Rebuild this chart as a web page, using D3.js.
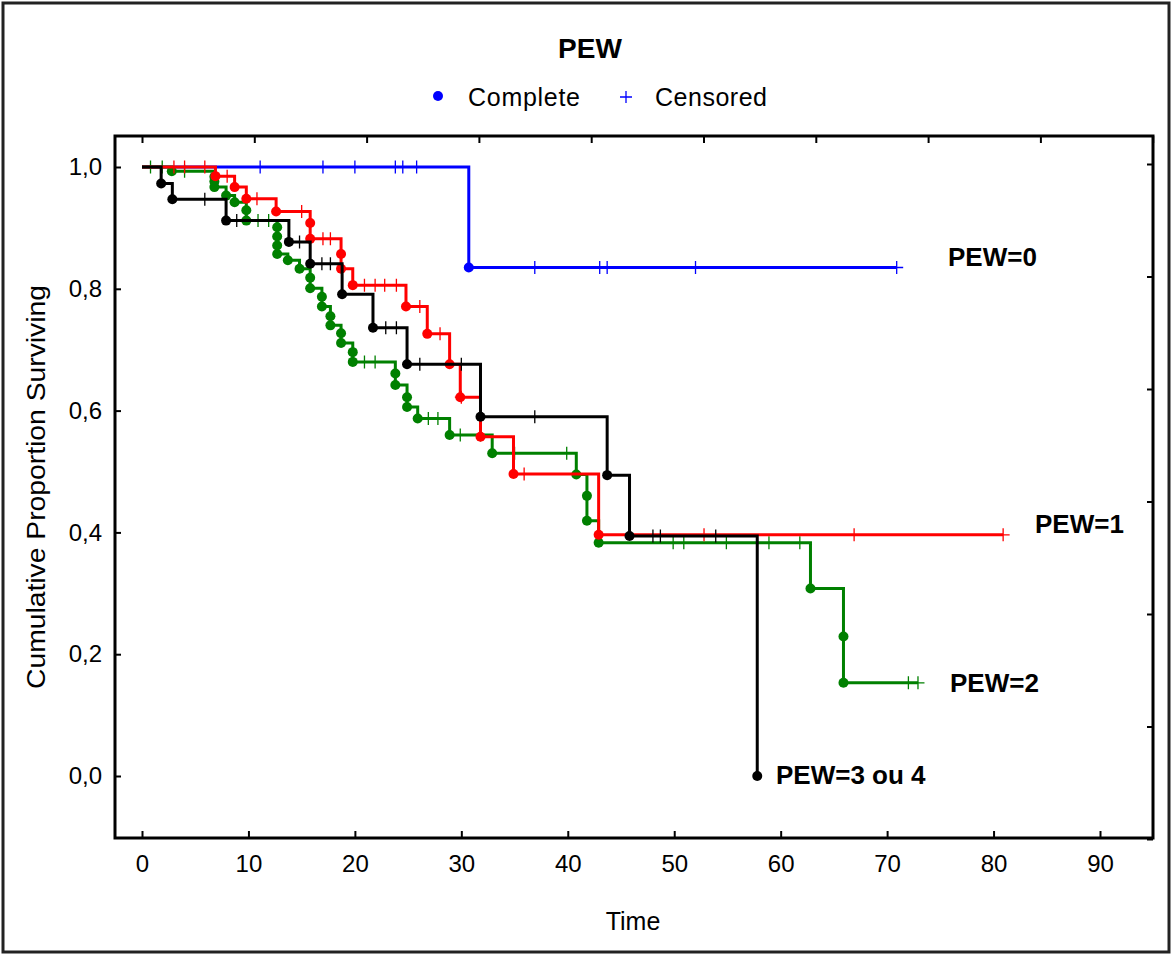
<!DOCTYPE html>
<html><head><meta charset="utf-8">
<script src="https://cdn.jsdelivr.net/npm/d3@7"></script>
<style>body{margin:0;background:#fff}svg{display:block}text{font-family:"Liberation Sans",Arial,sans-serif}</style>
</head><body><svg id="c" width="1172" height="955"></svg>
<script>
// ---- data ----
const groupNames = ["PEW=0", "PEW=1", "PEW=2", "PEW=3 ou 4"];
const groupColors = ["#0000ff", "#ff0000", "#008000", "#000000"];
const xTicks = [0,10,20,30,40,50,60,70,80,90];
const yTicks = [0,0.2,0.4,0.6,0.8,1.0];

// PEW=0
const evT0 = [30.7];
const evS0 = [0.835];
const cen0 = [11.1, 17.0, 20.0, 23.8, 24.5, 25.8, 36.9, 43.0, 43.7, 52.0, 70.9];
const end0 = 70.9;
// PEW=1
const evT1 = [6.9, 8.7, 9.8, 12.6, 15.8, 15.8, 18.7, 18.7, 19.8, 24.8, 26.8, 28.9, 29.9, 31.8, 34.9, 42.9];
const evS1 = [0.985, 0.967, 0.948, 0.927, 0.908, 0.882, 0.857, 0.833, 0.806, 0.771, 0.726, 0.676, 0.622, 0.557, 0.496, 0.396];
const cen1 = [3.0, 4.0, 5.9, 8.0, 10.8, 15.0, 17.0, 17.7, 20.9, 21.9, 22.8, 23.9, 26.1, 28.0, 30.0, 35.9, 52.8, 66.9, 80.9];
const end1 = 80.9;
// PEW=2
const evT2 = [2.8, 6.8, 6.8, 6.8, 7.9, 8.7, 9.8, 9.8, 12.7, 12.7, 12.7, 12.7, 13.7, 14.8, 15.8, 15.8, 16.9, 16.9, 17.7, 17.7, 18.7, 18.7, 19.8, 19.8, 23.8, 23.8, 24.9, 24.9, 25.9, 28.9, 32.9, 40.8, 41.8, 41.8, 42.9, 62.8, 65.9, 65.9];
const evS2 = [0.993, 0.984, 0.976, 0.967, 0.953, 0.942, 0.929, 0.912, 0.901, 0.886, 0.871, 0.857, 0.847, 0.833, 0.818, 0.801, 0.787, 0.771, 0.755, 0.740, 0.727, 0.711, 0.696, 0.680, 0.661, 0.642, 0.622, 0.606, 0.587, 0.560, 0.530, 0.495, 0.460, 0.419, 0.383, 0.308, 0.229, 0.153];
const cen2 = [0.8, 1.9, 4.0, 10.9, 11.9, 20.9, 21.9, 26.9, 27.8, 29.9, 31.8, 35.0, 39.9, 49.9, 50.9, 54.9, 58.9, 61.8, 72.0, 72.9];
const end2 = 72.9;
// PEW=3 ou 4
const evT3 = [1.8, 2.85, 7.9, 13.8, 15.8, 18.8, 21.7, 24.9, 31.8, 43.7, 45.8, 57.8];
const evS3 = [0.973, 0.947, 0.912, 0.877, 0.841, 0.791, 0.736, 0.676, 0.590, 0.494, 0.394, 0.0];
const cen3 = [5.9, 8.9, 14.8, 16.9, 17.7, 22.9, 23.9, 26.1, 30.0, 36.9, 48.0, 48.7, 53.9];
const end3 = 57.8;

const groups = [
  {ev: evT0, s: evS0, cen: cen0, end: end0},
  {ev: evT1, s: evS1, cen: cen1, end: end1},
  {ev: evT2, s: evS2, cen: cen2, end: end2},
  {ev: evT3, s: evS3, cen: cen3, end: end3}
];

// ---- layout ----
const svg = d3.select("#c");
const frame = {l:115, t:136, r:1153, b:838};
const x = d3.scaleLinear().domain([0,90]).range([142,1100]);
const y = d3.scaleLinear().domain([0,1]).range([776,167]);
// secondary (unlabelled) tick scales along top and right frame edges
const xTop = d3.scaleLinear().domain([0,9]).range([142,1152.7]);
const yRight = d3.scaleLinear().domain([0,6]).range([164,839]);

// outer border
svg.append("rect").attr("x",3).attr("y",3).attr("width",1166).attr("height",949)
  .attr("fill","#fff").attr("stroke","#222").attr("stroke-width",3);

// title + legend
svg.append("text").attr("x",590).attr("y",58).attr("text-anchor","middle")
  .attr("font-size",28).attr("font-weight","bold").text("PEW");
svg.append("circle").attr("cx",438).attr("cy",96).attr("r",5).attr("fill","#0000ff");
svg.append("text").attr("x",468).attr("y",106).attr("font-size",25).attr("textLength",112).text("Complete");
svg.append("path").attr("d","M620,97H632M626,91V103").attr("stroke","#0000ff").attr("stroke-width",1.3);
svg.append("text").attr("x",655).attr("y",106).attr("font-size",25).attr("textLength",112).text("Censored");

// axes
const gx = svg.append("g").attr("transform",`translate(0,${frame.b})`)
  .call(d3.axisBottom(x).tickValues(xTicks).tickSize(-7).tickPadding(17).tickFormat(d3.format("d")));
const gy = svg.append("g").attr("transform",`translate(${frame.l},0)`)
  .call(d3.axisLeft(y).tickValues(yTicks).tickSize(-6).tickPadding(13).tickFormat(d => d3.format(".1f")(d).replace(".",",")));
const gt = svg.append("g").attr("transform",`translate(0,${frame.t})`)
  .call(d3.axisTop(xTop).ticks(9).tickSize(-7).tickFormat(""));
const gr = svg.append("g").attr("transform",`translate(${frame.r},0)`)
  .call(d3.axisRight(yRight).ticks(6).tickSize(-6).tickFormat(""));
[gx,gy,gt,gr].forEach(g => {
  g.select(".domain").remove();
  g.selectAll(".tick line").attr("stroke","#000").attr("stroke-width",2);
  g.selectAll(".tick text").attr("font-size",24).attr("fill","#000")
    .style("font-family","'Liberation Sans',Arial,sans-serif");
});
svg.append("rect").attr("x",frame.l).attr("y",frame.t)
  .attr("width",frame.r-frame.l).attr("height",frame.b-frame.t)
  .attr("fill","none").attr("stroke","#000").attr("stroke-width",3);

svg.append("text").attr("x",633).attr("y",930).attr("text-anchor","middle").attr("font-size",25).text("Time");
svg.append("text").attr("transform","translate(45,487) rotate(-90)").attr("text-anchor","middle")
  .attr("font-size",25).attr("textLength",404).attr("lengthAdjust","spacingAndGlyphs").text("Cumulative Proportion Surviving");

// curves
const line = d3.line().x(d => x(d[0])).y(d => y(d[1])).curve(d3.curveStepAfter);
function survAt(g, t){ let s = 1; g.ev.forEach((e,i)=>{ if (e <= t) s = g.s[i]; }); return s; }
const order = [0,2,1,3];
order.forEach(gi => {
  const g = groups[gi], col = groupColors[gi];
  const pts = [[0,1]];
  g.ev.forEach((t,i) => pts.push([t, g.s[i]]));
  pts.push([g.end, g.s[g.s.length-1]]);
  const gg = svg.append("g");
  gg.append("path").attr("d", line(pts)).attr("fill","none").attr("stroke",col).attr("stroke-width",3);
  gg.selectAll("path.cen").data(g.cen).join("path").attr("class","cen")
    .attr("d", t => { const cx = x(t), cy = y(survAt(g,t)); return `M${cx-6.5},${cy}H${cx+6.5}M${cx},${cy-6.5}V${cy+6.5}`; })
    .attr("stroke", col).attr("stroke-width",1.3);
  gg.selectAll("circle").data(g.ev.map((t,i)=>[t,g.s[i]])).join("circle")
    .attr("cx", d => x(d[0])).attr("cy", d => y(d[1])).attr("r",5).attr("fill",col);
});

// group labels
const labelPos = [[948,266],[1035,533],[950,692],[776,784]];
groupNames.forEach((n,i) => {
  svg.append("text").attr("x",labelPos[i][0]).attr("y",labelPos[i][1])
    .attr("font-size",26).attr("font-weight","bold").text(n);
});
</script></body></html>
